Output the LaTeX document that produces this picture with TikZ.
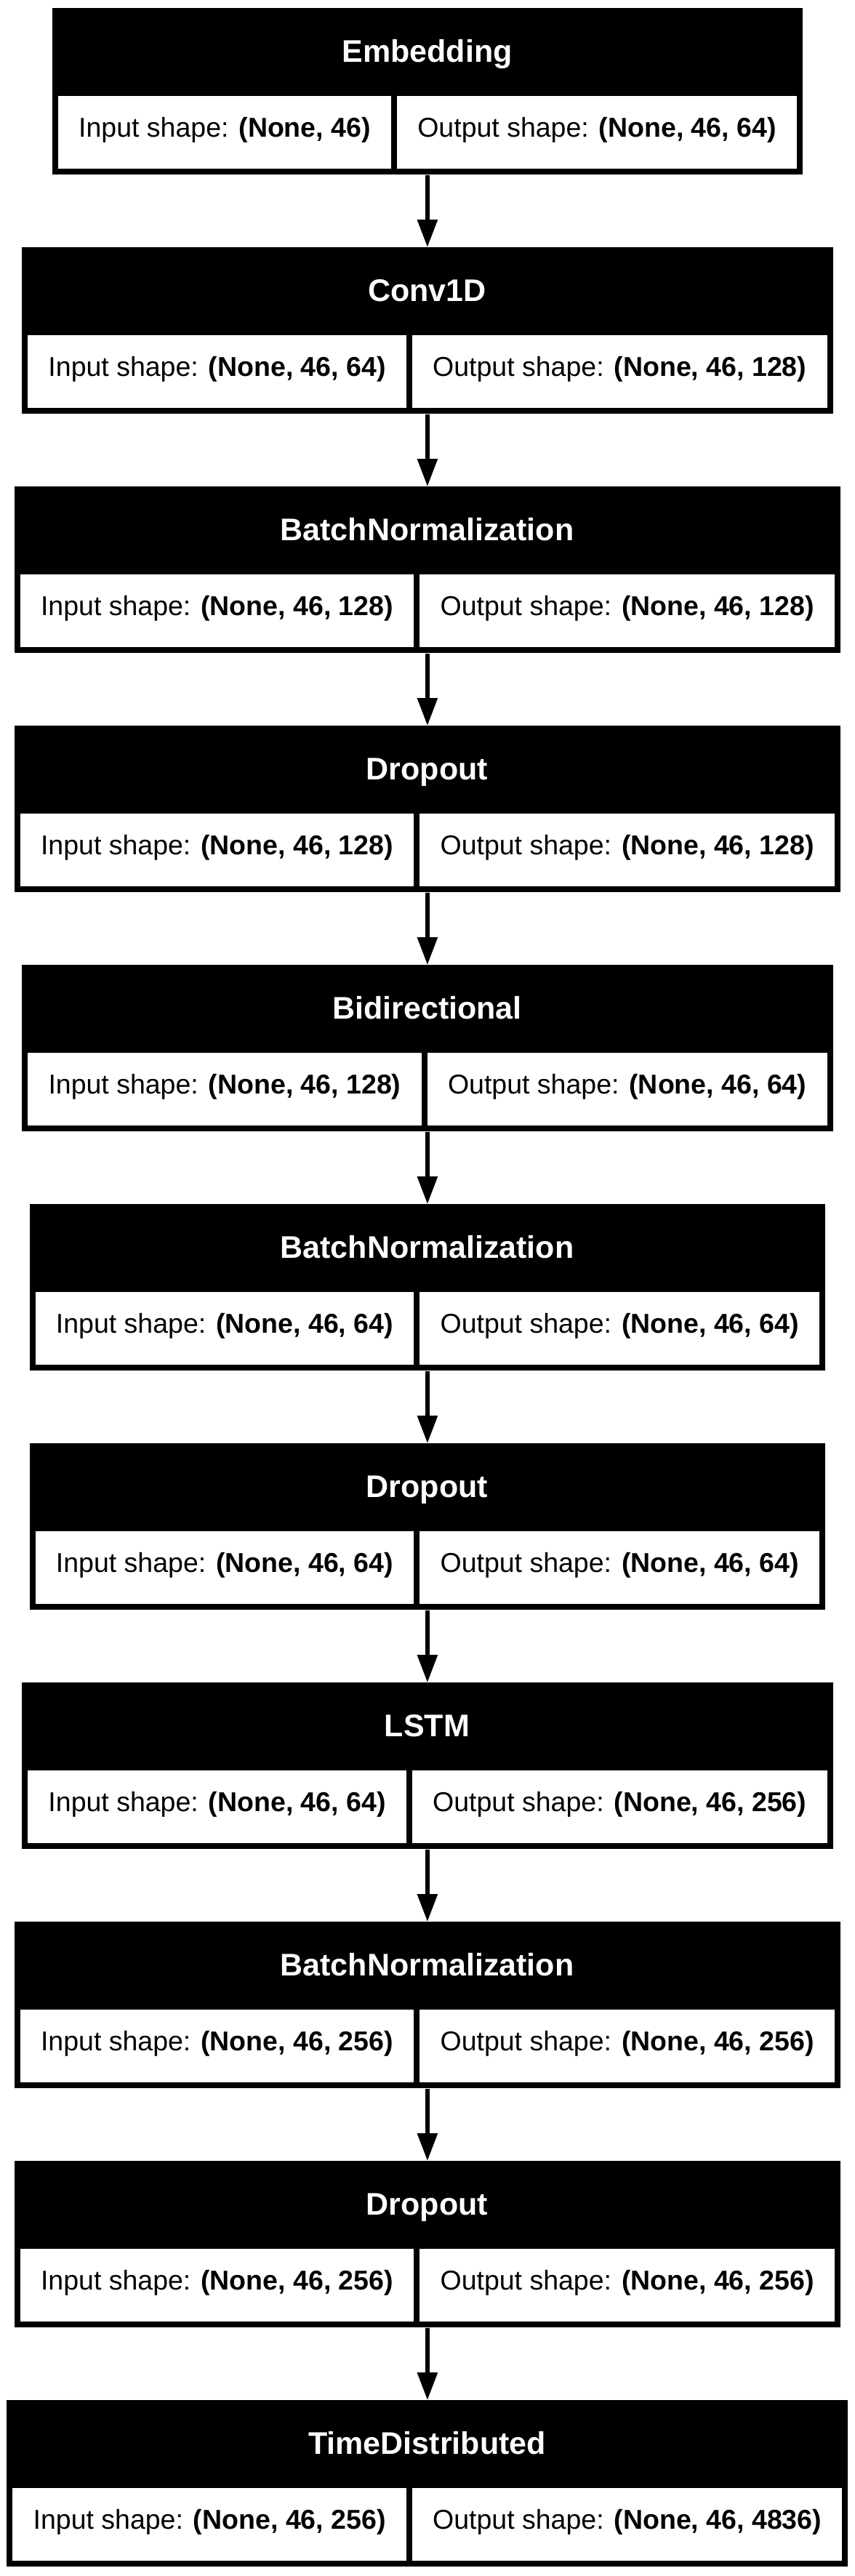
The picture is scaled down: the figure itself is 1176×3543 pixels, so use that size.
\documentclass[tikz,border=0pt]{standalone}
\usepackage{fontspec}
\setmainfont{Liberation Sans}
\usetikzlibrary{arrows.meta}
\tikzset{
  layerbox/.style={fill=black, inner sep=0pt, anchor=north west, minimum height=114.5pt},
  titletext/.style={text=white, anchor=base, inner sep=0pt, font=\fontsize{21.5pt}{26pt}\selectfont\bfseries},
  cellbox/.style={fill=white, inner sep=0pt, anchor=north west, minimum height=50pt,
    text height=0.78em, text depth=0.14em, font=\fontsize{18.75pt}{22pt}\selectfont},
  conn/.style={line width=2.9pt, -{Triangle[length=19pt,width=13.5pt]}}
}
\newcommand\mylayer[7]{%
  \pgfmathsetmacro\layY{11+329*#2}%
  \pgfmathsetmacro\layW{24+#6+#7}%
  \pgfmathsetmacro\layX{587.5-\layW/2}%
  \node[layerbox, minimum width=\layW*0.5pt] (#1) at (\layX,\layY) {};
  \node[titletext] (#1t) at (587.5,\layY+74.5) {#3};
  \node[cellbox, minimum width=#6*0.5pt] (#1i) at (\layX+8,\layY+121) {Input shape: \textbf{#4}};
  \node[cellbox, minimum width=#7*0.5pt] (#1o) at (\layX+16+#6,\layY+121) {Output shape: \textbf{#5}};
}
\begin{document}
\begin{tikzpicture}[x=0.5pt,y=-0.5pt]
  \useasboundingbox[fill=white] (0,0) rectangle (1176,3543);
  \mylayer{l0}{0}{Embedding}{(None, 46)}{(None, 46, 64)}{458.1}{549.8}
  \mylayer{l1}{1}{Conv1D}{(None, 46, 64)}{(None, 46, 128)}{520.65}{570.7}
  \mylayer{l2}{2}{BatchNormalization}{(None, 46, 128)}{(None, 46, 128)}{541.5}{570.7}
  \mylayer{l3}{3}{Dropout}{(None, 46, 128)}{(None, 46, 128)}{541.5}{570.7}
  \mylayer{l4}{4}{Bidirectional}{(None, 46, 128)}{(None, 46, 64)}{541.5}{549.8}
  \mylayer{l5}{5}{BatchNormalization}{(None, 46, 64)}{(None, 46, 64)}{520.65}{549.8}
  \mylayer{l6}{6}{Dropout}{(None, 46, 64)}{(None, 46, 64)}{520.65}{549.8}
  \mylayer{l7}{7}{LSTM}{(None, 46, 64)}{(None, 46, 256)}{520.65}{570.7}
  \mylayer{l8}{8}{BatchNormalization}{(None, 46, 256)}{(None, 46, 256)}{541.5}{570.7}
  \mylayer{l9}{9}{Dropout}{(None, 46, 256)}{(None, 46, 256)}{541.5}{570.7}
  \mylayer{l10}{10}{TimeDistributed}{(None, 46, 256)}{(None, 46, 4836)}{541.5}{591.5}
  \foreach \a/\b in {l0/l1,l1/l2,l2/l3,l3/l4,l4/l5,l5/l6,l6/l7,l7/l8,l8/l9,l9/l10}
    \draw[conn] (\a) -- (\b);
\end{tikzpicture}
\end{document}
